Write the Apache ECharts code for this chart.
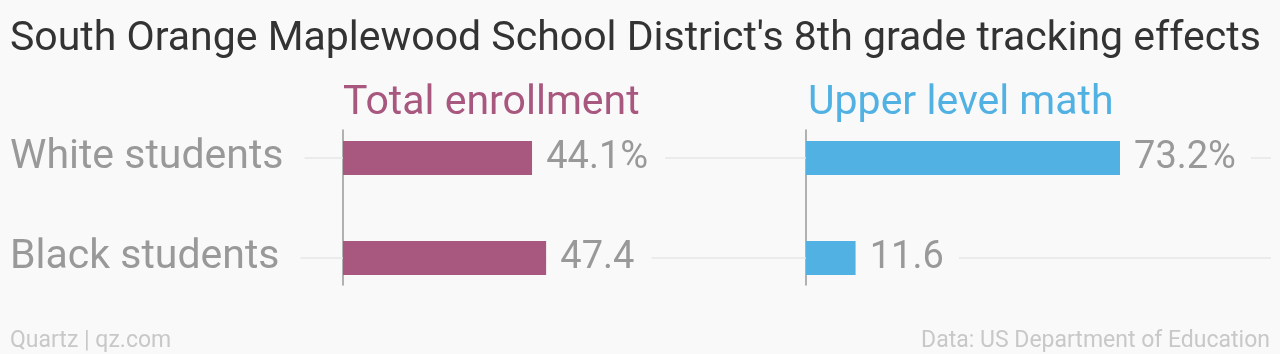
<!DOCTYPE html>
<html>
<head>
<meta charset="utf-8">
<script src="https://cdn.jsdelivr.net/npm/echarts@6/dist/echarts.min.js"></script>
<style>
html,body{margin:0;padding:0;background:#f9f9f9;}
#chart{width:1280px;height:354px;}
</style>
</head>
<body>
<div id="chart"></div>
<script>
const categories = ['White students', 'Black students'];
const enrollment = [44.1, 47.4];
const upperMath = [73.2, 11.6];
const panelTitles = ['Total enrollment', 'Upper level math'];
const chartTitle = "South Orange Maplewood School District's 8th grade tracking effects";
const sourceLeft = 'Quartz | qz.com';
const sourceRight = 'Data: US Department of Education';

const FONT = 'Roboto';
const PX = 4.29;           // pixels per percentage point
const fullLeft = 10, fullRight = 1271;
const zeroL = 343, zeroR = 806;
const gTop = 108, gH = 200;

const fmt = p => p.value + (p.dataIndex === 0 ? '%' : '');
const ts = (size, color) => ({fontFamily: FONT, fontSize: size, fontWeight: 'normal', color: color});

const chart = echarts.init(document.getElementById('chart'), null, {renderer: 'canvas'});
chart.setOption({
  backgroundColor: '#f9f9f9',
  animation: false,
  title: [
    {text: chartTitle, left: 10, top: 19, padding: 0, textStyle: ts(41, '#333333')},
    {text: panelTitles[0], left: zeroL, top: 83, padding: 0, textStyle: ts(41, '#a8577f')},
    {text: panelTitles[1], left: zeroR + 2, top: 83, padding: 0, textStyle: ts(41, '#51b1e3')},
    {text: sourceLeft, left: 10, top: 330, padding: 0, textStyle: ts(23, '#c8c8c8')},
    {text: sourceRight, right: 10, top: 330, padding: 0, textStyle: ts(23, '#c8c8c8')}
  ],
  grid: [
    {left: fullLeft, width: fullRight - fullLeft, top: gTop, height: gH},
    {left: zeroR, width: fullRight - zeroR, top: gTop, height: gH},
    {left: zeroL, width: 10, top: 130, height: 155},
    {left: zeroR, width: 10, top: 130, height: 155}
  ],
  xAxis: [
    {gridIndex: 0, type: 'value', min: -(zeroL - fullLeft) / PX, max: (fullRight - zeroL) / PX, show: false},
    {gridIndex: 1, type: 'value', min: 0, max: (fullRight - zeroR) / PX, show: false},
    {gridIndex: 2, type: 'value', min: 0, max: 1, show: false},
    {gridIndex: 3, type: 'value', min: 0, max: 1, show: false}
  ],
  yAxis: [
    {gridIndex: 0, type: 'category', data: categories, inverse: true, z: 3,
      axisLine: {show: false}, axisTick: {show: false}, splitLine: {show: false},
      axisLabel: {margin: 0, align: 'left', fontFamily: FONT, fontSize: 41, color: '#999999',
        backgroundColor: '#f9f9f9', padding: [6, 21, 0, 0]}},
    {gridIndex: 1, type: 'category', data: categories, inverse: true, show: false},
    {gridIndex: 2, type: 'category', data: [], axisTick: {show: false}, axisLabel: {show: false},
      axisLine: {show: true, onZero: false, lineStyle: {color: '#999999', width: 1.5}}},
    {gridIndex: 3, type: 'category', data: [], axisTick: {show: false}, axisLabel: {show: false},
      axisLine: {show: true, onZero: false, lineStyle: {color: '#999999', width: 1.5}}}
  ],
  series: [
    {type: 'bar', name: panelTitles[0], xAxisIndex: 0, yAxisIndex: 0, data: enrollment, barWidth: 34, z: 2,
      itemStyle: {color: '#a8577f'},
      label: {show: true, position: 'right', distance: 0, formatter: fmt, fontFamily: FONT, fontSize: 38,
        color: '#999999', backgroundColor: '#f9f9f9', padding: [6, 17, 0, 14]},
      markLine: {silent: true, symbol: 'none', z: 1, label: {show: false},
        lineStyle: {color: '#e6e6e6', width: 1.5, type: 'solid'},
        data: categories.map(c => ({yAxis: c}))}},
    {type: 'bar', name: panelTitles[1], xAxisIndex: 1, yAxisIndex: 1, data: upperMath, barWidth: 34, z: 2,
      itemStyle: {color: '#51b1e3'},
      label: {show: true, position: 'right', distance: 0, formatter: fmt, fontFamily: FONT, fontSize: 38,
        color: '#999999', backgroundColor: '#f9f9f9', padding: [6, 15, 0, 14]}}
  ]
});
</script>
</body>
</html>
